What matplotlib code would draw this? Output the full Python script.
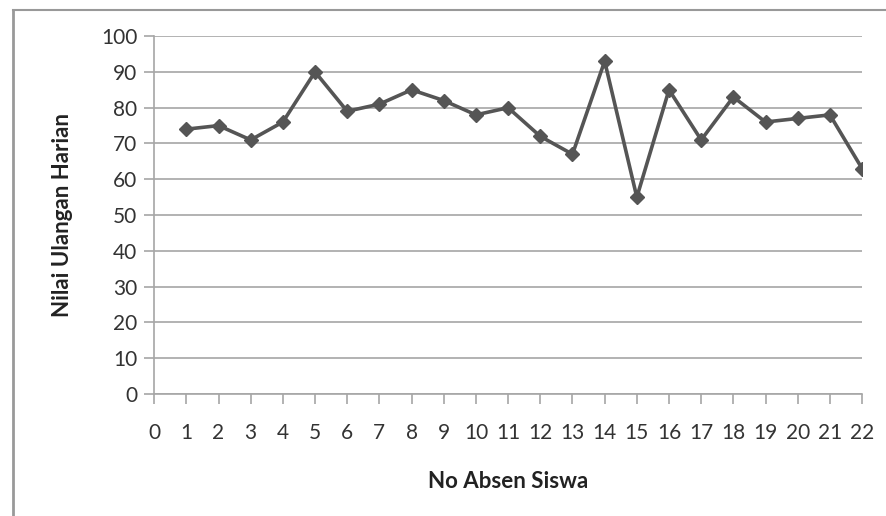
import matplotlib.pyplot as plt
from matplotlib.lines import Line2D

# data
no_absen = list(range(1, 23))
nilai = [74, 75, 71, 76, 90, 79, 81, 85, 82, 78, 80,
         72, 67, 93, 55, 85, 71, 83, 76, 77, 78, 63]

plt.rcParams['font.family'] = ['Lato', 'DejaVu Sans']

fig = plt.figure(figsize=(8.86, 5.16), dpi=100)
ax = fig.add_axes([0.174, 0.2364, 0.799, 0.6936])

ax.plot(no_absen, nilai, color="#555555", linewidth=2.6,
        marker="D", markersize=7, zorder=3)

ax.set_xlim(0, 22)
ax.set_ylim(0, 100)
ax.set_xticks(range(0, 23))
ax.set_yticks(range(0, 101, 10))
ax.grid(axis="y", color="#a6a6a6", linewidth=1.2)
ax.set_axisbelow(True)

for s in ["top", "right"]:
    ax.spines[s].set_visible(False)
for s in ["left", "bottom"]:
    ax.spines[s].set_color("#a6a6a6")
    ax.spines[s].set_linewidth(1.2)

ax.tick_params(axis="both", colors="#a6a6a6", labelcolor="#333333",
               labelsize=15, length=7, width=1.2)
ax.tick_params(axis="x", pad=14)
ax.tick_params(axis="y", pad=5)

ax.set_xlabel("No Absen Siswa", fontsize=16, fontweight="bold",
              color="#222222", labelpad=20)
ax.set_ylabel("Nilai Ulangan Harian", fontsize=16, fontweight="bold",
              color="#222222", labelpad=20)

# outer frame lines of the chart area
fig.add_artist(Line2D([13 / 886, 13 / 886], [0, 1 - 10 / 516],
                      transform=fig.transFigure, color="#999999", linewidth=2))
fig.add_artist(Line2D([13 / 886, 1], [1 - 10 / 516, 1 - 10 / 516],
                      transform=fig.transFigure, color="#999999", linewidth=1.5))

fig.savefig("out.png", dpi=100)
